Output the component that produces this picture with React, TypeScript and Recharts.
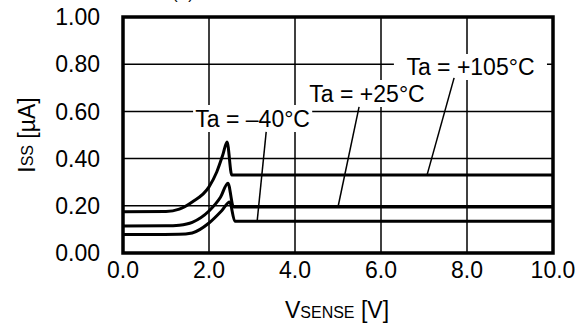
import { LineChart, Line, XAxis, YAxis, CartesianGrid, ReferenceArea, ReferenceLine } from 'recharts';

// Iss vs Vsense for three ambient temperatures
const vsense105 = [0, 1.0, 1.31, 1.61, 2.0, 2.18, 2.32, 2.42, 2.53, 10];
const iss105 = [0.175, 0.176, 0.186, 0.216, 0.28, 0.343, 0.415, 0.47, 0.33, 0.33];

const vsense25 = [0, 1.0, 1.31, 1.61, 2.0, 2.27, 2.44, 2.57, 10];
const iss25 = [0.114, 0.115, 0.118, 0.13, 0.178, 0.237, 0.296, 0.195, 0.195];

const vsenseM40 = [0, 1.3, 1.61, 2.0, 2.3, 2.48, 2.6, 10];
const issM40 = [0.078, 0.079, 0.085, 0.127, 0.18, 0.216, 0.135, 0.135];

const xTicks = [0, 2, 4, 6, 8, 10];
const yTicks = [0, 0.2, 0.4, 0.6, 0.8, 1.0];

const FONT = '"Liberation Sans", Arial, Helvetica, sans-serif';
const FS = 23;
const SMALL = 16;

const toPoints = (xs: number[], ys: number[]) => xs.map((x, i) => ({ x, y: ys[i] }));

// annotation boxes (white background behind labels) and leader lines, in data units
const labels = [
  { text: 'Ta = +105°C', box: [6.3, 9.86, 0.733, 0.843], leader: [7.7, 0.742, 7.07, 0.33] },
  { text: 'Ta = +25°C', box: [4.1, 7.25, 0.619, 0.733], leader: [5.49, 0.619, 5.0, 0.195] },
  { text: 'Ta = –40°C', box: [1.63, 4.4, 0.513, 0.627], leader: [3.33, 0.513, 3.12, 0.135] },
];

export default function App() {
  const series = [
    { name: '105', data: toPoints(vsense105, iss105) },
    { name: '25', data: toPoints(vsense25, iss25) },
    { name: '-40', data: toPoints(vsenseM40, issM40) },
  ];

  return (
    <div style={{ position: 'absolute', left: 0, top: 0, width: 579, height: 324, background: '#fff', fontFamily: FONT }}>
      <LineChart width={579} height={324} margin={{ top: 17, right: 26, bottom: 31, left: 63 }}>
        <CartesianGrid stroke="#000" strokeWidth={1.5} />
        <XAxis
          type="number"
          dataKey="x"
          domain={[0, 10]}
          ticks={xTicks}
          tickFormatter={(v: number) => v.toFixed(1)}
          axisLine={false}
          tickLine={false}
          tickSize={0}
          tickMargin={9}
          height={40}
          tick={{ fill: '#000', fontSize: FS, fontFamily: FONT }}
          allowDuplicatedCategory={false}
        />
        <YAxis
          type="number"
          dataKey="y"
          domain={[0, 1]}
          ticks={yTicks}
          tickFormatter={(v: number) => v.toFixed(2)}
          axisLine={false}
          tickLine={false}
          tickSize={0}
          tickMargin={23}
          width={60}
          tick={{ fill: '#000', fontSize: FS, fontFamily: FONT }}
        />
        {series.map((s) => (
          <Line
            key={s.name}
            data={s.data}
            dataKey="y"
            type="monotone"
            stroke="#000"
            strokeWidth={3}
            dot={false}
            isAnimationActive={false}
          />
        ))}
        {labels.map((l) => (
          <ReferenceArea
            key={l.text}
            x1={l.box[0]}
            x2={l.box[1]}
            y1={l.box[2]}
            y2={l.box[3]}
            fill="#fff"
            fillOpacity={1}
            stroke="none"
            label={{ value: l.text, position: 'center', fill: '#000', fontSize: FS, fontFamily: FONT }}
          />
        ))}
        {labels.map((l) => (
          <ReferenceLine
            key={'ld' + l.text}
            segment={[
              { x: l.leader[0], y: l.leader[1] },
              { x: l.leader[2], y: l.leader[3] },
            ]}
            stroke="#000"
            strokeWidth={1.5}
          />
        ))}
        <ReferenceArea x1={0} x2={10} y1={0} y2={1} fill="none" stroke="#000" strokeWidth={3.5} />
      </LineChart>
      <svg width={579} height={324} style={{ position: 'absolute', left: 0, top: 0, pointerEvents: 'none' }}>
        {/* condition line above the plot, mostly cut off by the top edge as in the source */}
        <text y={-7} fontSize={FS} fontFamily={FONT} fill="#000">
          <tspan x={45}>V</tspan>
          <tspan fontSize={SMALL} dy={6}>DD</tspan>
          <tspan dy={-6}> = </tspan>
          <tspan x={125}>V</tspan>
          <tspan fontSize={SMALL} dy={6}>DET(S)</tspan>
          <tspan dy={-6}> + 1.0 V, V</tspan>
          <tspan fontSize={SMALL} dy={6}>SENSE</tspan>
        </text>
        <text
          x={27}
          y={135}
          transform="rotate(-90, 27, 135)"
          textAnchor="middle"
          dominantBaseline="central"
          fontSize={FS}
          fontFamily={FONT}
          fill="#000"
        >
          I<tspan fontSize={SMALL}>SS</tspan> [µA]
        </text>
        <text x={337} y={318} textAnchor="middle" fontSize={FS} fontFamily={FONT} fill="#000">
          V<tspan fontSize={SMALL}>SENSE</tspan> [V]
        </text>
      </svg>
    </div>
  );
}
